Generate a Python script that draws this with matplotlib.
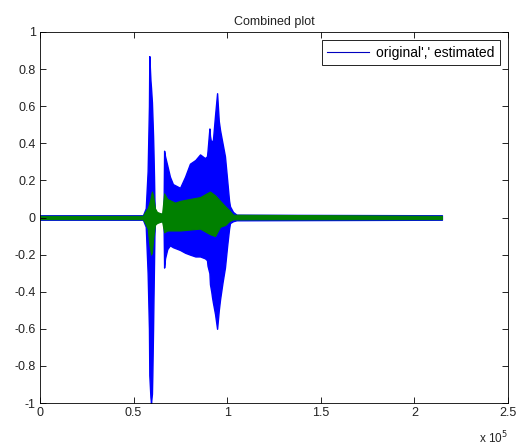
import numpy as np
import matplotlib
matplotlib.use('Agg')
import matplotlib.pyplot as plt

# envelope of the original signal (sample index, upper, lower)
orig_x = [0, 55000, 56500, 57500, 58200, 58400, 59000, 59300, 59800, 60000, 60400, 60600,
          60900, 61100, 61400, 63000, 66000, 66300, 66800, 68000, 69400, 71000,
          74800, 77500, 80100, 83000, 85500, 88100, 89200, 89500, 90500, 90800,
          91500, 91900, 92400, 93500, 94600, 95500, 96200, 97500, 98800, 100000,
          101000, 101500, 103100, 105000, 214700]
orig_hi = [0.012, 0.012, 0.05, 0.25, 0.60, 0.87, 0.74, 0.70, 0.62, 0.56, 0.44, 0.36,
           0.22, 0.10, 0.03, 0.02, 0.02, 0.36, 0.33, 0.28, 0.22, 0.18,
           0.16, 0.22, 0.29, 0.31, 0.34, 0.32, 0.33, 0.36, 0.48, 0.44,
           0.40, 0.41, 0.42, 0.55, 0.67, 0.52, 0.47, 0.40, 0.33, 0.20,
           0.09, 0.06, 0.03, 0.015, 0.012]
orig_lo = [-0.012, -0.012, -0.05, -0.30, -0.60, -0.85, -0.97, -1.0, -0.95, -0.85, -0.60, -0.45,
           -0.25, -0.10, -0.03, -0.02, -0.02, -0.27, -0.22, -0.17, -0.15, -0.16,
           -0.175, -0.19, -0.20, -0.21, -0.21, -0.22, -0.23, -0.26, -0.30, -0.36,
           -0.40, -0.43, -0.46, -0.52, -0.60, -0.50, -0.44, -0.35, -0.27, -0.15,
           -0.06, -0.03, -0.02, -0.015, -0.012]

# envelope of the estimated signal
est_x = [0, 55000, 56100, 57500, 58500, 59000, 59300, 59800, 60400, 61400, 62500,
         65200, 66300, 68000, 72100, 75000, 80100, 85500, 90800, 93500, 96200,
         99000, 101000, 103100, 214700]
est_hi = [0.009, 0.009, 0.03, 0.05, 0.08, 0.10, 0.12, 0.14, 0.12, 0.05, 0.03,
          0.02, 0.13, 0.10, 0.08, 0.09, 0.10, 0.11, 0.14, 0.12, 0.09,
          0.06, 0.04, 0.015, 0.009]
est_lo = [-0.009, -0.009, -0.03, -0.06, -0.15, -0.18, -0.20, -0.19, -0.12, -0.04, -0.03,
          -0.02, -0.08, -0.07, -0.07, -0.07, -0.065, -0.06, -0.09, -0.10, -0.05,
          -0.04, -0.02, -0.01, -0.009]

x_ticks = [0, 50000, 100000, 150000, 200000, 250000]
x_labels = ['0', '0.5', '1', '1.5', '2', '2.5']
y_ticks = [-1, -0.8, -0.6, -0.4, -0.2, 0, 0.2, 0.4, 0.6, 0.8, 1]
y_labels = ['-1', '-0.8', '-0.6', '-0.4', '-0.2', '0', '0.2', '0.4', '0.6', '0.8', '1']

plt.rcParams['font.family'] = ['Liberation Sans', 'DejaVu Sans']

fig = plt.figure(figsize=(5.23, 4.46), dpi=100)
ax = fig.add_axes([40 / 523, 43 / 446, 468 / 523, 371 / 446])

blue = (0, 0, 1)
green = (0, 0.5, 0)

ax.fill_between(orig_x, orig_lo, orig_hi, color=blue, linewidth=1.0)
ax.fill_between(est_x, est_lo, est_hi, color=green, linewidth=0.8)
# proxy line for the one legend entry
ax.plot([], [], color=(0, 0, 0.75), linewidth=0.8, label="original',' estimated")

ax.set_xlim(0, 250000)
ax.set_ylim(-1, 1)
ax.set_xticks(x_ticks)
ax.set_xticklabels(x_labels)
ax.set_yticks(y_ticks)
ax.set_yticklabels(y_labels)
ax.tick_params(direction='in', top=True, right=True, length=4, width=0.6,
               labelsize=9, pad=3, labelcolor='#222222')
for sp in ax.spines.values():
    sp.set_linewidth(0.6)

ax.text(1.0, -0.072, r'x 10$^5$', transform=ax.transAxes, fontsize=8.5,
        ha='right', va='top', color='#222222')
ax.set_title('Combined plot', fontsize=9, pad=5, color='#222222')

leg = ax.legend(loc='upper right', fontsize=10, fancybox=False, framealpha=1,
                edgecolor='black', borderaxespad=0.6, handlelength=3.0,
                borderpad=0.4, handletextpad=0.5)
leg.get_frame().set_linewidth(0.6)

plt.savefig('out.png', dpi=100)
